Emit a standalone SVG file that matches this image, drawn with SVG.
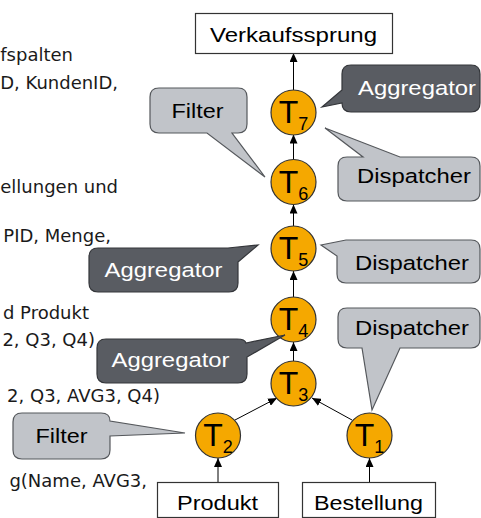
<svg xmlns="http://www.w3.org/2000/svg" width="481" height="518" viewBox="0 0 481 518">
<defs>
<marker id="ah" markerWidth="9" markerHeight="8" refX="9" refY="4" orient="auto" markerUnits="userSpaceOnUse">
<path d="M0,0 L9,4 L0,8 Z" fill="#000"/>
</marker>
<style>
.lt{font-family:"DejaVu Sans",Verdana,sans-serif;font-size:18px;fill:#1a1a1a;text-anchor:end}
.lb{font-family:"Liberation Sans",Arial,sans-serif;font-size:20.5px;text-anchor:middle}
.dk{fill:#fff}
.bk{fill:#000}
.cl{fill:#c1c4c9;stroke:#55585c;stroke-width:1.2}
.cd{fill:#595c62;stroke:#34363a;stroke-width:1.2}
.nd{fill:#f5a800;stroke:#333;stroke-width:1.2}
.bx{fill:#fff;stroke:#333;stroke-width:1.2}
.tl{font-family:"Liberation Sans",Arial,sans-serif;font-size:32px;fill:#000;text-anchor:middle}
.ed{stroke:#000;stroke-width:1;fill:none;marker-end:url(#ah)}
</style>
</defs>
<rect width="481" height="518" fill="#fff"/>
<g id="sidetext">
<text class="lt" x="73" y="61" font-size="17.5">fspalten</text>
<text class="lt" x="118" y="89" font-size="17.5">D, KundenID,</text>
<text class="lt" x="118" y="193" font-size="17">ellungen und</text>
<text class="lt" x="111" y="242">PID, Menge,</text>
<text class="lt" x="89" y="319">d Produkt</text>
<text class="lt" x="95" y="346">2, Q3, Q4)</text>
<text class="lt" x="160" y="402">2, Q3, AVG3, Q4)</text>
<text class="lt" x="147" y="487">g(Name, AVG3,</text>
</g>
<g id="connectors">
<line class="ed" x1="293.5" y1="90" x2="293.5" y2="53"/>
<line class="ed" x1="293.5" y1="159.5" x2="293.5" y2="134.5"/>
<line class="ed" x1="293.5" y1="226" x2="293.5" y2="204.5"/>
<line class="ed" x1="293.5" y1="297" x2="293.5" y2="271"/>
<line class="ed" x1="293.5" y1="361" x2="293.5" y2="342"/>
<line class="ed" x1="235" y1="420" x2="277" y2="398"/>
<line class="ed" x1="352" y1="420" x2="312" y2="398"/>
<line class="ed" x1="218" y1="482" x2="218" y2="458"/>
<line class="ed" x1="369.5" y1="482" x2="369.5" y2="458"/>
</g>
<g id="verkaufssprung">
<rect class="bx" x="195.5" y="13.5" width="197" height="40"/>
<text class="lb bk" x="293.5" y="42" textLength="167" lengthAdjust="spacingAndGlyphs">Verkaufssprung</text>
</g>
<g id="produkt">
<rect class="bx" x="157.5" y="482.5" width="121" height="35"/>
<text class="lb bk" x="217.5" y="510" textLength="81" lengthAdjust="spacingAndGlyphs">Produkt</text>
</g>
<g id="bestellung">
<rect class="bx" x="302.5" y="482.5" width="133" height="35"/>
<text class="lb bk" x="368.5" y="510" textLength="109" lengthAdjust="spacingAndGlyphs">Bestellung</text>
</g>
<g id="T7"><circle class="nd" cx="293.5" cy="112.5" r="22.5"/><text class="tl" x="293.5" y="123">T<tspan font-size="18" dy="7">7</tspan></text></g>
<g id="T6"><circle class="nd" cx="293.5" cy="182" r="22.5"/><text class="tl" x="293.5" y="192.5">T<tspan font-size="18" dy="7">6</tspan></text></g>
<g id="T5"><circle class="nd" cx="293.5" cy="248.5" r="22.5"/><text class="tl" x="293.5" y="259">T<tspan font-size="18" dy="7">5</tspan></text></g>
<g id="T4"><circle class="nd" cx="293.5" cy="319.5" r="22.5"/><text class="tl" x="293.5" y="330">T<tspan font-size="18" dy="7">4</tspan></text></g>
<g id="T3"><circle class="nd" cx="293.5" cy="383.5" r="22.5"/><text class="tl" x="293.5" y="394">T<tspan font-size="18" dy="7">3</tspan></text></g>
<g id="T2"><circle class="nd" cx="218" cy="435.5" r="22.5"/><text class="tl" x="218" y="446">T<tspan font-size="18" dy="7">2</tspan></text></g>
<g id="T1"><circle class="nd" cx="369.5" cy="435.5" r="22.5"/><text class="tl" x="369.5" y="446">T<tspan font-size="18" dy="7">1</tspan></text></g>
<g id="callout-filter-top">
<path class="cl" d="M159,88 H238 Q247,88 247,97 V124 Q247,133 238,133 H232 L265,177 L207,133 H159 Q150,133 150,124 V97 Q150,88 159,88 Z"/>
<text class="lb bk" x="197.5" y="118" textLength="52" lengthAdjust="spacingAndGlyphs">Filter</text>
</g>
<g id="callout-aggregator-top">
<path class="cd" d="M351,65 H471 Q480,65 480,74 V103 Q480,112 471,112 H351 Q342,112 342,103 L322,107 L342,90 V74 Q342,65 351,65 Z"/>
<text class="lb dk" x="417" y="95" textLength="118" lengthAdjust="spacingAndGlyphs">Aggregator</text>
</g>
<g id="callout-dispatcher-1">
<path class="cl" d="M347,157 H363 L325,128 L400,157 H471 Q480,157 480,166 V192 Q480,201 471,201 H347 Q338,201 338,192 V166 Q338,157 347,157 Z"/>
<text class="lb bk" x="414" y="183" textLength="114" lengthAdjust="spacingAndGlyphs">Dispatcher</text>
</g>
<g id="callout-aggregator-mid">
<path class="cd" d="M98,248 H228 L258,245 L238,262 V283 Q238,292 229,292 H98 Q89,292 89,283 V257 Q89,248 98,248 Z"/>
<text class="lb dk" x="163.5" y="277" textLength="118" lengthAdjust="spacingAndGlyphs">Aggregator</text>
</g>
<g id="callout-dispatcher-2">
<path class="cl" d="M346,240 H471 Q480,240 480,249 V274 Q480,283 471,283 H346 Q337,283 337,274 V256 L321,245 L346,240 Z"/>
<text class="lb bk" x="412" y="270" textLength="114" lengthAdjust="spacingAndGlyphs">Dispatcher</text>
</g>
<g id="callout-dispatcher-3">
<path class="cl" d="M347,308 H471 Q480,308 480,317 V339 Q480,348 471,348 H400 L372,410 L362,348 H347 Q338,348 338,339 V317 Q338,308 347,308 Z"/>
<text class="lb bk" x="412" y="335" textLength="114" lengthAdjust="spacingAndGlyphs">Dispatcher</text>
</g>
<g id="callout-aggregator-low">
<path class="cd" d="M106,339 H237 Q245,339 246,343 L285,335 L247,357 V374 Q247,383 238,383 H106 Q97,383 97,374 V348 Q97,339 106,339 Z"/>
<text class="lb dk" x="170.5" y="367" textLength="118" lengthAdjust="spacingAndGlyphs">Aggregator</text>
</g>
<g id="callout-filter-low">
<path class="cl" d="M22,413 H101 Q110,413 110,421 L185,433 L110,436 V450 Q110,459 101,459 H22 Q13,459 13,450 V422 Q13,413 22,413 Z"/>
<text class="lb bk" x="61.5" y="443" textLength="52" lengthAdjust="spacingAndGlyphs">Filter</text>
</g>
</svg>
